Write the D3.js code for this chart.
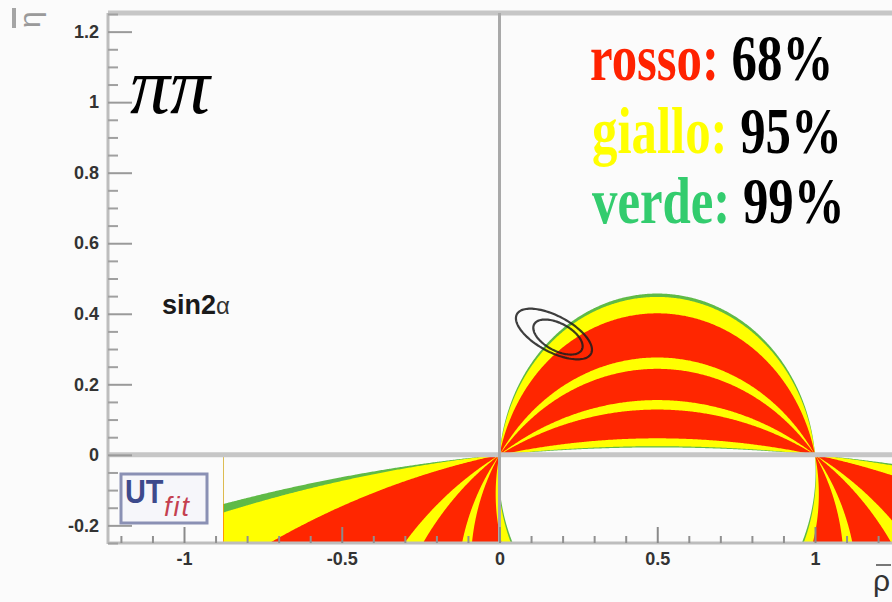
<!DOCTYPE html>
<html>
<head>
<meta charset="utf-8">
<script src="https://cdn.jsdelivr.net/npm/d3@7"></script>
<style>
  html, body { margin: 0; padding: 0; background: #fbfbfb; }
  svg { display: block; }
</style>
</head>
<body>
<script>
// ---- sin2alpha (pi pi) constraint in the (rho-bar, eta-bar) plane ----
// Allowed bands of alpha (degrees, taken mod 180), from the low edge upward,
// and the probability level each band belongs to.
const bandEdges  = [95.1, 96.3, 102.5, 122.2, 128.0, 145.5, 151.2, 169.3, 174.4, 175.2];
const bandLevels = ["verde", "giallo", "rosso", "giallo", "rosso", "giallo", "rosso", "giallo", "verde"];
const levelColor = { rosso: "#ff2600", giallo: "#ffff00", verde: "#5fba47" };
const rhoCut = -0.877;                 // left edge of the sampled region

// legend
const legendNames  = ["rosso:", "giallo:", "verde:"];
const legendValues = ["68%", "95%", "99%"];
const legendColors = ["#ff2200", "#ffff00", "#33cc6e"];

// axes
const xTicks      = [-1, -0.5, 0, 0.5, 1];
const xTickLabels = ["-1", "-0.5", "0", "0.5", "1"];
const yTicks      = [-0.2, 0, 0.2, 0.4, 0.6, 0.8, 1, 1.2];
const yTickLabels = ["-0.2", "0", "0.2", "0.4", "0.6", "0.8", "1", "1.2"];

// global fit contours: centre and two conjugate semi-axes, in (rho, eta)
const fitCenters = [[0.1726, 0.3426], [0.1853, 0.3340]];
const fitAxisU   = [[0.1175, -0.0559], [0.0755, -0.0360]];
const fitAxisV   = [[-0.0268, -0.0451], [-0.0203, -0.0342]];

const W = 892, H = 602;
const bg = "#fbfbfb";

const x = d3.scaleLinear().domain([-1, 1]).range([184, 815]);
const y = d3.scaleLinear().domain([-0.25, 1.25]).range([543, 14]);
const frameL = 108, frameT = 13, frameB = 543, frameR = W;

const svg = d3.select("body").append("svg")
  .attr("width", W).attr("height", H)
  .style("background", bg);

svg.append("defs").append("clipPath").attr("id", "plotArea")
  .append("rect").attr("x", frameL).attr("y", frameT)
  .attr("width", frameR - frameL).attr("height", frameB - frameT);

// ---- alpha field, sampled separately above and below the real axis ----
function alphaMod(rho, eta) {
  let a = Math.atan2(eta, rho * rho - rho + eta * eta) * 180 / Math.PI;
  if (a < 0) a += 180;
  return rho < rhoCut ? 0 : a;
}

const step = 0.004;
const rho0 = -1.25, rho1 = 1.27;
const nx = Math.round((rho1 - rho0) / step) + 1;

function sampleHalf(sign, etaMax) {
  const ny = Math.round(etaMax / step) + 1;
  const vals = new Array(nx * ny);
  for (let j = 0; j < ny; j++) {
    const eta = sign > 0 ? j * step : -Math.max(j * step, 1e-9);
    for (let i = 0; i < nx; i++) {
      vals[j * nx + i] = alphaMod(rho0 + i * step, eta);
    }
  }
  return { ny, vals };
}

const regions = svg.append("g").attr("clip-path", "url(#plotArea)");

function drawHalf(sign, etaMax) {
  const { ny, vals } = sampleHalf(sign, etaMax);
  const contours = d3.contours().size([nx, ny]).thresholds(bandEdges)(vals);
  const proj = d3.geoTransform({
    point: function (gx, gy) {
      const rho = rho0 + (gx - 0.5) * step;
      const eta = sign * (gy - 0.5) * step;
      this.stream.point(x(rho), y(eta));
    }
  });
  const path = d3.geoPath(proj);
  regions.append("g").selectAll("path")
    .data(contours)
    .join("path")
    .attr("d", path)
    .attr("fill", (d, i) => i < bandLevels.length ? levelColor[bandLevels[i]] : bg)
    .attr("stroke", "none");
}
drawHalf(+1, 0.52);
drawHalf(-1, 0.27);

// ---- frame and reference lines ----
const lines = svg.append("g");
lines.append("line").attr("x1", frameL).attr("x2", frameR)
  .attr("y1", frameT).attr("y2", frameT)
  .attr("stroke", "#c6c6c6").attr("stroke-width", 5);
lines.append("line").attr("x1", frameL).attr("x2", frameR)
  .attr("y1", y(0)).attr("y2", y(0))
  .attr("stroke", "#c6c6c6").attr("stroke-width", 5);
lines.append("line").attr("x1", x(0)).attr("x2", x(0))
  .attr("y1", frameT).attr("y2", frameB)
  .attr("stroke", "#a9a9a9").attr("stroke-width", 3);
lines.append("line").attr("x1", frameL).attr("x2", frameL)
  .attr("y1", frameT).attr("y2", frameB + 1)
  .attr("stroke", "#bdbdbd").attr("stroke-width", 3);
lines.append("line").attr("x1", frameL).attr("x2", frameR)
  .attr("y1", frameB).attr("y2", frameB)
  .attr("stroke", "#bdbdbd").attr("stroke-width", 3);

// ---- axes ----
const tickFont = "Liberation Sans, Arial, sans-serif";

const yMinor = d3.range(-0.25, 1.2501, 0.05).filter(v => !yTicks.some(t => Math.abs(t - v) < 1e-6));
const yMinorAxis = d3.axisLeft(y).tickValues(yMinor).tickSizeInner(-10).tickSizeOuter(0).tickFormat("");
svg.append("g").attr("transform", `translate(${frameL},0)`).call(yMinorAxis)
  .call(g => g.select(".domain").remove())
  .call(g => g.selectAll("line").attr("stroke", "#a0a0a0").attr("stroke-width", 2));

const yAxis = d3.axisLeft(y).tickValues(yTicks).tickSizeInner(-24).tickSizeOuter(0)
  .tickPadding(9).tickFormat((d, i) => yTickLabels[i]);
svg.append("g").attr("transform", `translate(${frameL},0)`).call(yAxis)
  .call(g => g.select(".domain").remove())
  .call(g => g.selectAll("line").attr("stroke", "#9a9a9a").attr("stroke-width", 2))
  .call(g => g.selectAll("text").attr("font-family", tickFont).attr("font-size", 18)
    .attr("font-weight", "bold").attr("fill", "#333"));

const xMinor = d3.range(-1.2, 1.2501, 0.1).filter(v => !xTicks.some(t => Math.abs(t - v) < 1e-6));
const xMinorAxis = d3.axisBottom(x).tickValues(xMinor).tickSizeInner(-7).tickSizeOuter(0).tickFormat("");
svg.append("g").attr("transform", `translate(0,${frameB})`).call(xMinorAxis)
  .call(g => g.select(".domain").remove())
  .call(g => g.selectAll("line").attr("stroke", "#909090").attr("stroke-width", 2));

const xAxis = d3.axisBottom(x).tickValues(xTicks).tickSizeInner(-16).tickSizeOuter(0)
  .tickPadding(9).tickFormat((d, i) => xTickLabels[i]);
svg.append("g").attr("transform", `translate(0,${frameB})`).call(xAxis)
  .call(g => g.select(".domain").remove())
  .call(g => g.selectAll("line").attr("stroke", "#8a8a8a").attr("stroke-width", 2))
  .call(g => g.selectAll("text").attr("font-family", tickFont).attr("font-size", 18)
    .attr("font-weight", "bold").attr("fill", "#333"));

// axis titles: eta-bar (rotated, top left) and rho-bar (bottom right)
const etaTitle = svg.append("g").attr("transform", "translate(40,28) rotate(-90)");
etaTitle.append("text").text("η").attr("x", 0).attr("y", 0)
  .attr("font-family", tickFont).attr("font-size", 30).attr("fill", "#9a9a9a");
svg.append("line").attr("x1", 14).attr("x2", 14).attr("y1", 8).attr("y2", 28)
  .attr("stroke", "#a5a5a5").attr("stroke-width", 4);

svg.append("text").text("ρ").attr("x", 873).attr("y", 591)
  .attr("font-family", tickFont).attr("font-size", 30).attr("fill", "#333");
svg.append("line").attr("x1", 876).attr("x2", 891).attr("y1", 565).attr("y2", 565)
  .attr("stroke", "#777").attr("stroke-width", 2);

// ---- global fit contours ----
const ellipseLine = d3.line().x(d => x(d[0])).y(d => y(d[1])).curve(d3.curveLinearClosed);
const tSamples = d3.range(0, 2 * Math.PI, Math.PI / 60);
fitCenters.forEach((c, k) => {
  const u = fitAxisU[k], v = fitAxisV[k];
  const pts = tSamples.map(t => [
    c[0] + u[0] * Math.cos(t) + v[0] * Math.sin(t),
    c[1] + u[1] * Math.cos(t) + v[1] * Math.sin(t)
  ]);
  svg.append("path").attr("d", ellipseLine(pts))
    .attr("fill", "none").attr("stroke", "#1c1c1c").attr("stroke-opacity", 0.85)
    .attr("stroke-width", 2.2);
});

// ---- labels ----
svg.append("text").text("ππ").attr("x", 130).attr("y", 113)
  .attr("font-family", "Liberation Serif, Times New Roman, serif")
  .attr("font-style", "italic").attr("font-size", 80).attr("fill", "#000");

const sinLabel = svg.append("text").attr("x", 162).attr("y", 314)
  .attr("font-family", tickFont).attr("fill", "#1a1a1a");
sinLabel.append("tspan").text("sin2").attr("font-size", 27).attr("font-weight", "bold");
sinLabel.append("tspan").text("α").attr("font-size", 24).attr("fill", "#333");

// legend
const legendX = [590, 592, 592];
const legendBase = [80, 153, 223];
legendNames.forEach((name, i) => {
  const t = svg.append("text")
    .attr("transform", `translate(${legendX[i]},${legendBase[i]}) scale(0.77,1)`)
    .attr("font-family", "Liberation Serif, Times New Roman, serif")
    .attr("font-weight", "bold").attr("font-size", 66);
  t.append("tspan").text(name).attr("fill", legendColors[i]);
  t.append("tspan").text(" " + legendValues[i]).attr("fill", "#000");
});

// UTfit badge
const badge = svg.append("g");
badge.append("rect").attr("x", 121).attr("y", 474).attr("width", 86).attr("height", 49)
  .attr("fill", "#f6f6fa").attr("stroke", "#8a90b4").attr("stroke-width", 3);
badge.append("text").text("UT").attr("transform", "translate(125,503) scale(0.85,1)")
  .attr("font-family", tickFont).attr("font-weight", "bold").attr("font-size", 34)
  .attr("fill", "#3d4a8c");
badge.append("text").text("fit").attr("x", 164).attr("y", 516)
  .attr("font-family", tickFont).attr("font-style", "italic").attr("font-size", 27)
  .attr("letter-spacing", 2).attr("fill", "#c44050");
</script>
</body>
</html>
